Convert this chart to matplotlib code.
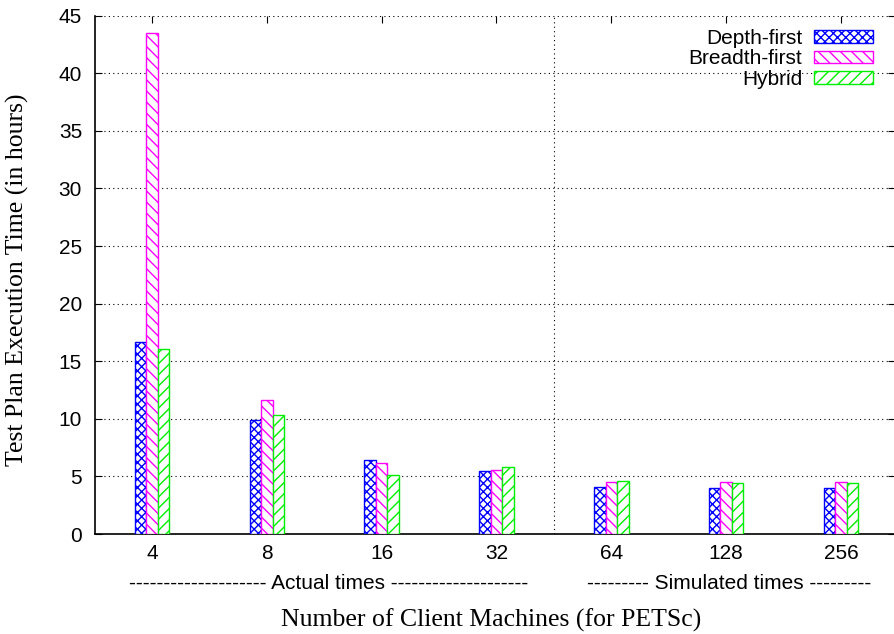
import numpy as np
import matplotlib.pyplot as plt
from matplotlib.patches import Rectangle

# -------------------------------------------------
# Data
# -------------------------------------------------
clients = ['4', '8', '16', '32', '64', '128', '256']
depth_first = [16.65, 9.9, 6.4, 5.45, 4.05, 4.0, 4.0]
breadth_first = [43.5, 11.6, 6.2, 5.55, 4.5, 4.5, 4.5]
hybrid = [16.1, 10.3, 5.1, 5.8, 4.6, 4.47, 4.47]

series_names = ['Depth-first', 'Breadth-first', 'Hybrid']
group_labels = ['-------------------- Actual times --------------------',
                '--------- Simulated times ---------']

# -------------------------------------------------
# Plot
# -------------------------------------------------
plt.rcParams['hatch.linewidth'] = 1.0

fig = plt.figure(figsize=(8.95, 6.34), dpi=100)
ax = fig.add_axes([0.1056, 0.1577, 0.8944, 0.8175])

x = np.arange(len(clients))
w = 0.1
colors = ['#0000ff', '#ff00ff', '#00ee00']
hatches = ['xxxx', '\\\\\\', '///']

for i, (vals, name) in enumerate(zip([depth_first, breadth_first, hybrid], series_names)):
    ax.bar(x + (i - 1) * w, vals, w, facecolor='white', edgecolor=colors[i],
           hatch=hatches[i], linewidth=1.0, label=name, zorder=3)

ax.set_xlim(-0.5, 6.47)
ax.set_ylim(0, 45)
ax.set_yticks(np.arange(0, 46, 5))
ax.set_xticks(x)
ax.set_xticklabels(clients)

# gnuplot look: dotted grid, border only left+bottom, ticks inward/mirrored
ax.yaxis.grid(True, linestyle=(0, (1, 3)), color='black', linewidth=0.8, zorder=0)
ax.axvline(3.5, linestyle=(0, (1, 3)), color='black', linewidth=0.8, zorder=0)
ax.spines['top'].set_visible(False)
ax.spines['right'].set_visible(False)
ax.spines['left'].set_linewidth(1.2)
ax.spines['bottom'].set_linewidth(1.2)
ax.tick_params(direction='in', length=5, top=True, right=True, labelsize=15,
               pad=7)
ax.tick_params(axis='y', pad=9)
for lab in ax.get_xticklabels() + ax.get_yticklabels():
    lab.set_fontfamily('Liberation Sans')

ax.text(1.54, -0.106, group_labels[0], transform=ax.get_xaxis_transform(),
        ha='center', va='baseline', fontsize=15, family='Liberation Sans')
ax.text(5.03, -0.106, group_labels[1], transform=ax.get_xaxis_transform(),
        ha='center', va='baseline', fontsize=15, family='Liberation Sans')

ax.set_xlabel('Number of Client Machines (for PETSc)', fontsize=18.5,
              family='Liberation Serif')
ax.xaxis.label.set_va('baseline')
ax.xaxis.set_label_coords(0.496, -0.179)
ax.set_ylabel('Test Plan Execution Time (in hours)', fontsize=18.5,
              family='Liberation Serif')
ax.yaxis.label.set_va('center')
ax.yaxis.set_label_coords(-0.096, 0.49)

# key area hides the grid behind it (as in gnuplot)
ax.add_patch(Rectangle((0.683, 0.867), 0.308, 0.121, transform=ax.transAxes,
                       facecolor='white', edgecolor='none', zorder=1))

leg = ax.legend(loc='upper right', bbox_to_anchor=(0.972, 0.975), markerfirst=False,
                frameon=False, borderaxespad=0,
                handlelength=2.8, handleheight=0.58, labelspacing=0.08,
                handletextpad=0.58, borderpad=0,
                prop={'family': 'Liberation Sans', 'size': 15})
for t in leg.get_texts():
    t.set_ha('right')

fig.savefig('out.png', dpi=100)
